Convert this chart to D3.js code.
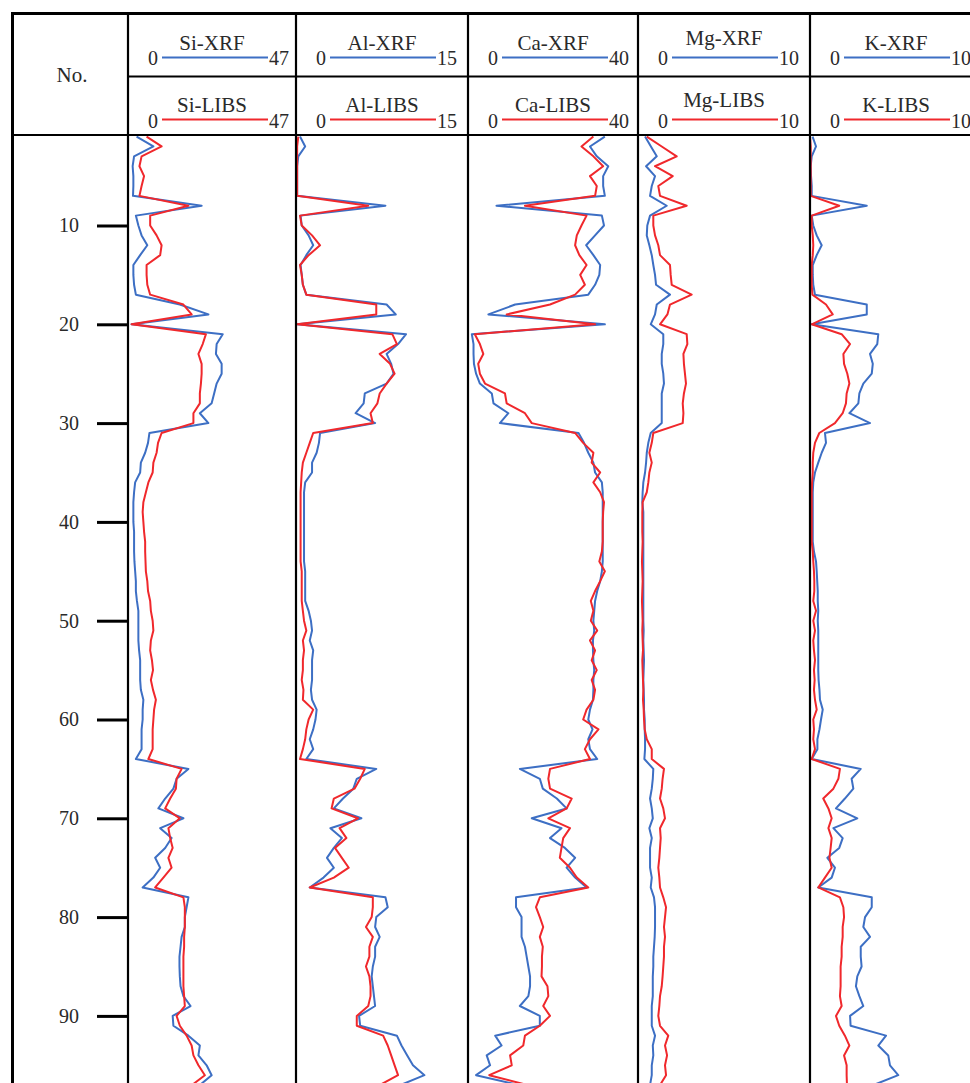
<!DOCTYPE html>
<html>
<head>
<meta charset="utf-8">
<script src="https://cdn.jsdelivr.net/npm/d3@7/dist/d3.min.js"></script>
<style>
  html, body { margin: 0; padding: 0; background: #fff; }
  svg { display: block; }
  text { font-family: "Liberation Serif", "Times New Roman", serif; fill: #2a2a2a; }
</style>
</head>
<body>
<svg id="chart" width="970" height="1083"></svg>
<script>
// Sample numbers (depth order, top to bottom)
const sampleNo = [1,2,3,4,5,6,7,8,9,10,11,12,13,14,15,16,17,18,19,20,
  21,22,23,24,25,26,27,28,29,30,31,32,33,34,35,36,37,38,39,40,
  41,42,43,44,45,46,47,48,49,50,51,52,53,54,55,56,57,58,59,60,
  61,62,63,64,65,66,67,68,69,70,71,72,73,74,75,76,77,78,79,80,
  81,82,83,84,85,86,87,88,89,90,91,92,93,94,95,96,97];

// Element tracks and their header scale maxima
const elements = ["Si", "Al", "Ca", "Mg", "K"];
const scaleMax = [47, 15, 40, 10, 10];
const yTicks = [10, 20, 30, 40, 50, 60, 70, 80, 90];

// Si content
const siXRF = [2.4,7.1,1.7,1.3,1.5,1.5,1.4,20.6,2.2,2.9, 3.8,5.4,3.4,1.5,1.5,1.7,2.2,14.5,22.5,1.0,
  26.5,24.8,24.6,26.2,26.2,24.8,24.1,23.4,20.1,22.5, 6.0,5.6,4.8,3.6,3.4,2.0,1.7,1.5,1.5,1.5,
  1.7,1.7,1.7,1.8,2.0,2.2,2.2,2.5,2.9,2.9, 2.9,2.9,3.1,3.4,3.4,3.4,3.6,4.3,4.1,4.1,
  3.8,3.8,3.8,2.2,16.9,13.6,12.7,10.4,8.5,15.5, 9.0,12.2,10.4,7.6,9.0,7.1,4.1,16.9,16.4,15.9,
  15.9,15.0,14.7,14.4,14.4,14.5,14.7,15.5,17.5,12.5, 12.7,16.9,20.1,19.7,22.0,23.4,20.1];
const siLIBS = [5.2,9.4,3.8,3.2,4.5,3.8,3.2,16.9,6.2,6.2, 8.0,9.4,9.0,5.2,5.2,5.4,6.2,15.5,17.8,1.0,
  21.8,20.9,19.7,20.6,20.6,20.4,20.1,20.1,18.3,18.3, 9.4,8.4,8.0,7.1,6.9,5.7,5.0,4.3,4.1,4.3,
  4.5,4.8,4.8,4.9,5.0,5.4,5.6,6.2,6.4,6.9, 7.1,6.4,6.2,6.7,7.0,6.4,7.0,7.8,7.3,7.1,
  6.9,6.9,6.9,5.7,15.0,13.6,13.4,11.8,10.4,14.5, 11.3,11.8,12.5,11.3,12.2,9.9,7.6,15.5,15.9,15.9,
  15.9,15.7,15.7,15.5,15.5,15.5,15.5,15.7,15.9,13.6, 14.5,16.4,17.8,18.3,19.7,21.5,17.9];

// Al content
const alXRF = [0.35,0.8,0.2,0.1,0.1,0.1,0.1,7.8,0.4,0.5, 1.1,1.5,0.9,0.4,0.5,0.6,0.9,7.9,8.7,0.1,
  9.6,8.9,7.9,8.3,8.5,7.9,6.0,5.9,5.2,6.9, 2.1,2.0,1.8,1.4,1.4,0.8,0.7,0.7,0.7,0.7,
  0.7,0.7,0.7,0.7,0.8,0.8,0.8,0.8,1.1,1.3, 1.4,1.2,1.5,1.4,1.4,1.4,1.3,1.4,1.8,1.7,
  1.5,1.2,1.5,0.9,7.0,5.3,5.0,4.1,3.3,5.7, 3.0,4.0,3.3,2.7,3.3,2.4,1.2,7.8,8.0,7.0,
  6.9,7.3,6.9,6.9,6.7,6.6,6.7,6.8,6.9,5.5, 5.6,8.8,9.2,9.7,10.2,11.2,9.1];
const alLIBS = [0.2,0.1,0.1,0.1,0.1,0.1,0.1,6.3,0.35,0.5, 1.4,2.1,1.1,0.35,0.5,0.6,0.9,7.0,7.0,0.1,
  8.4,8.8,7.3,8.2,8.6,7.9,7.3,7.1,6.5,6.7, 1.5,1.2,0.9,0.6,0.5,0.45,0.4,0.4,0.4,0.4,
  0.4,0.4,0.4,0.4,0.5,0.5,0.5,0.5,0.6,0.7, 0.9,0.6,0.7,0.6,0.6,0.5,0.65,0.6,1.5,1.1,
  0.9,0.8,0.6,0.35,6.0,5.6,5.1,3.3,3.1,5.4, 3.8,4.4,3.4,4.0,4.6,3.3,1.2,6.7,6.7,6.6,
  6.1,6.7,6.4,6.4,6.1,6.4,6.5,6.5,6.3,5.3, 5.3,7.6,8.0,8.3,8.6,8.9,7.3];

// Ca content
const caXRF = [32.2,28.7,30.3,33.0,31.8,31.8,32.2,6.7,31.5,32.0, 29.9,27.8,29.5,31.1,30.9,29.9,28.3,11.1,4.8,32.2,
  0.9,1.3,1.3,1.4,1.9,2.8,5.6,6.0,9.5,7.5, 26.0,27.3,28.3,29.5,29.9,31.5,31.7,31.7,31.7,31.7,
  31.7,31.7,31.7,31.7,31.5,31.1,30.4,29.9,29.7,29.5, 29.7,29.4,29.4,29.5,29.7,29.5,29.5,29.4,28.7,28.3,
  29.3,28.3,28.7,30.4,12.2,16.9,17.6,20.9,23.2,15.0, 22.0,19.3,22.8,25.2,23.2,25.2,27.9,11.3,11.3,12.6,
  12.6,12.6,13.4,13.8,14.2,14.6,14.6,14.2,12.2,16.9, 16.9,6.4,7.9,4.4,5.2,1.9,12.0];
const caLIBS = [29.5,26.7,29.5,31.8,28.7,30.3,29.9,13.4,27.9,26.7, 25.6,25.2,26.2,27.9,26.4,27.5,25.2,19.3,9.1,29.9,
  1.6,2.8,3.6,2.4,2.8,4.0,8.7,9.1,13.4,15.0, 25.2,27.1,29.5,29.1,31.1,29.5,31.1,32.0,31.8,31.7,
  31.7,31.7,31.5,30.9,32.2,31.1,29.9,28.9,29.5,28.9, 30.4,28.7,29.9,29.1,30.3,29.1,29.9,29.5,27.9,27.1,
  30.7,28.7,27.5,28.7,19.3,18.9,19.3,24.4,23.2,18.9, 24.0,22.4,22.0,21.6,24.0,25.6,28.3,16.9,16.0,16.9,
  17.7,16.9,17.6,17.4,17.4,17.3,18.7,18.9,17.7,19.3, 16.9,13.4,13.0,9.9,10.3,5.0,14.0];

// Mg content
const mgXRF = [0.41,0.75,1.09,0.47,0.99,0.80,0.70,1.67,0.70,0.54, 0.51,0.66,0.80,0.89,0.99,1.05,1.86,1.09,0.99,0.74,
  1.47,1.47,1.38,1.38,1.47,1.51,1.38,1.38,1.38,1.38, 0.74,0.60,0.51,0.47,0.41,0.31,0.27,0.25,0.31,0.31,
  0.31,0.31,0.31,0.31,0.31,0.31,0.31,0.31,0.31,0.31, 0.33,0.31,0.33,0.35,0.33,0.31,0.33,0.35,0.35,0.39,
  0.39,0.41,0.41,0.37,0.89,0.86,0.80,0.70,0.80,0.86, 0.66,0.80,0.70,0.70,0.70,0.80,0.74,0.93,0.99,0.99,
  0.99,0.97,0.93,0.89,0.89,0.86,0.86,0.86,0.80,0.80, 0.80,0.99,0.86,0.89,0.80,0.80,0.70];
const mgLIBS = [0.51,1.38,2.25,0.99,2.02,1.18,1.28,2.83,0.89,0.89, 0.99,1.18,1.28,1.86,1.90,1.96,3.12,1.86,1.71,1.28,
  2.83,2.87,2.64,2.67,2.73,2.79,2.67,2.60,2.64,2.60, 0.89,0.80,0.66,0.80,0.66,0.60,0.51,0.27,0.25,0.25,
  0.25,0.27,0.25,0.23,0.25,0.27,0.25,0.23,0.25,0.27, 0.25,0.27,0.29,0.25,0.27,0.29,0.31,0.29,0.33,0.35,
  0.39,0.51,0.80,0.80,1.51,1.43,1.38,1.28,1.47,1.57, 1.28,1.32,1.28,1.24,1.18,1.24,1.28,1.47,1.63,1.57,
  1.51,1.57,1.51,1.51,1.47,1.43,1.38,1.28,1.24,1.18, 1.28,1.76,1.57,1.69,1.57,1.63,1.28];

// K content
const kXRF = [0.15,0.35,0.10,0.04,0.06,0.10,0.10,3.30,0.10,0.19, 0.39,0.68,0.39,0.16,0.16,0.19,0.29,3.30,3.30,0.10,
  3.97,3.91,3.49,3.65,3.59,3.10,2.87,2.81,2.29,3.49, 0.87,0.93,0.68,0.48,0.29,0.19,0.16,0.16,0.16,0.16,
  0.16,0.16,0.23,0.35,0.39,0.42,0.45,0.45,0.48,0.45, 0.48,0.48,0.48,0.48,0.48,0.50,0.55,0.58,0.74,0.64,
  0.55,0.43,0.43,0.10,2.95,2.42,2.52,2.03,1.51,2.75, 1.36,1.90,1.70,1.01,1.45,1.26,0.48,3.59,3.59,3.20,
  3.10,3.49,2.95,2.95,3.00,2.75,2.67,2.87,3.10,2.33, 2.36,4.42,3.97,4.55,4.65,5.13,3.68];
const kLIBS = [0.00,0.04,0.04,0.04,0.04,0.04,0.04,1.70,0.10,0.10, 0.16,0.19,0.16,0.10,0.10,0.10,0.14,0.93,1.32,0.10,
  1.84,2.33,1.94,1.98,2.17,2.29,2.13,2.09,1.90,1.45, 0.54,0.29,0.19,0.16,0.16,0.12,0.10,0.10,0.10,0.10,
  0.10,0.10,0.16,0.19,0.23,0.25,0.25,0.19,0.35,0.19, 0.29,0.19,0.23,0.29,0.23,0.27,0.23,0.29,0.39,0.19,
  0.23,0.19,0.29,0.10,1.74,1.65,1.36,0.77,1.07,1.26, 1.07,1.26,1.20,1.13,1.26,0.87,0.48,1.74,1.94,1.98,
  1.90,1.90,1.84,1.84,1.78,1.78,1.78,1.74,1.84,1.51, 1.70,2.03,2.29,1.98,2.13,2.13,2.15];

const xrfSeries = [siXRF, alXRF, caXRF, mgXRF, kXRF];
const libsSeries = [siLIBS, alLIBS, caLIBS, mgLIBS, kLIBS];

// ---- layout ----
const W = 970, H = 1083;
const frameLeft = 12.5, frameTop = 13.5;
const trackEdges = [128, 296, 468, 638, 810, 982];
const headerMid = 76.5, headerBottom = 135;
const titleShift = [0, 0, 0, -5, 0];   // Mg titles sit a little higher
const BLUE = "#3d6fc4", RED = "#f0282c";
const FONT = '"Liberation Serif", "Times New Roman", serif';

const svg = d3.select("#chart");
svg.append("rect").attr("width", W).attr("height", H).attr("fill", "#fff");

const y = d3.scaleLinear().domain([0, 100]).range([126.7, 126.7 + 988]);

// data lines per track
elements.forEach((el, i) => {
  const x = d3.scaleLinear().domain([0, scaleMax[i]]).range([trackEdges[i], trackEdges[i + 1]]);
  const line = d3.line().x(d => x(d[1])).y(d => y(d[0]));
  const g = svg.append("g").attr("class", "track-" + el);
  g.append("path")
    .datum(sampleNo.map((n, k) => [n, xrfSeries[i][k]]))
    .attr("d", line).attr("fill", "none").attr("stroke", BLUE)
    .attr("stroke-width", 2).attr("stroke-linejoin", "round");
  g.append("path")
    .datum(sampleNo.map((n, k) => [n, libsSeries[i][k]]))
    .attr("d", line).attr("fill", "none").attr("stroke", RED)
    .attr("stroke-width", 2).attr("stroke-linejoin", "round");

  // header: XRF and LIBS legends with scale ends
  const left = trackEdges[i], right = trackEdges[i + 1];
  const cx = (left + right) / 2;
  const rows = [
    { name: el + "-XRF", color: BLUE, title: 50, ly: 57.5, num: 65 },
    { name: el + "-LIBS", color: RED, title: 111.5, ly: 119.5, num: 128 }
  ];
  const hg = svg.append("g").attr("class", "header-" + el);
  rows.forEach(r => {
    hg.append("text").attr("x", cx).attr("y", r.title + titleShift[i])
      .attr("text-anchor", "middle").attr("font-size", 21).text(r.name);
    hg.append("line").attr("x1", left + 34).attr("x2", left + 140)
      .attr("y1", r.ly).attr("y2", r.ly)
      .attr("stroke", r.color).attr("stroke-width", 1.8);
    hg.append("text").attr("x", left + 30).attr("y", r.num)
      .attr("text-anchor", "end").attr("font-size", 20).text(0);
    hg.append("text").attr("x", left + 141).attr("y", r.num)
      .attr("text-anchor", "start").attr("font-size", 20).text(scaleMax[i]);
  });
});

// grid frame
const frame = svg.append("g").attr("stroke", "#000").attr("fill", "none");
frame.append("line").attr("x1", frameLeft - 1.5).attr("x2", W).attr("y1", frameTop).attr("y2", frameTop).attr("stroke-width", 3);
frame.append("line").attr("x1", frameLeft).attr("x2", frameLeft).attr("y1", frameTop - 1.5).attr("y2", H).attr("stroke-width", 3);
frame.append("line").attr("x1", trackEdges[0]).attr("x2", W).attr("y1", headerMid).attr("y2", headerMid).attr("stroke-width", 1.8);
frame.append("line").attr("x1", frameLeft).attr("x2", W).attr("y1", headerBottom).attr("y2", headerBottom).attr("stroke-width", 2.2);
trackEdges.forEach(xe => {
  frame.append("line").attr("x1", xe).attr("x2", xe).attr("y1", frameTop).attr("y2", H).attr("stroke-width", 2.2);
});

// sample-number axis
svg.append("text").attr("x", 72).attr("y", 82).attr("text-anchor", "middle")
  .attr("font-size", 21).text("No.");
const axis = svg.append("g").attr("transform", `translate(${trackEdges[0]},0)`)
  .call(d3.axisLeft(y).tickValues(yTicks).tickSize(31).tickPadding(18));
axis.select(".domain").remove();
axis.selectAll(".tick line").attr("stroke", "#000").attr("stroke-width", 3);
axis.selectAll(".tick text").attr("font-size", 20)
  .attr("font-family", FONT).attr("fill", "#2a2a2a");
</script>
</body>
</html>
